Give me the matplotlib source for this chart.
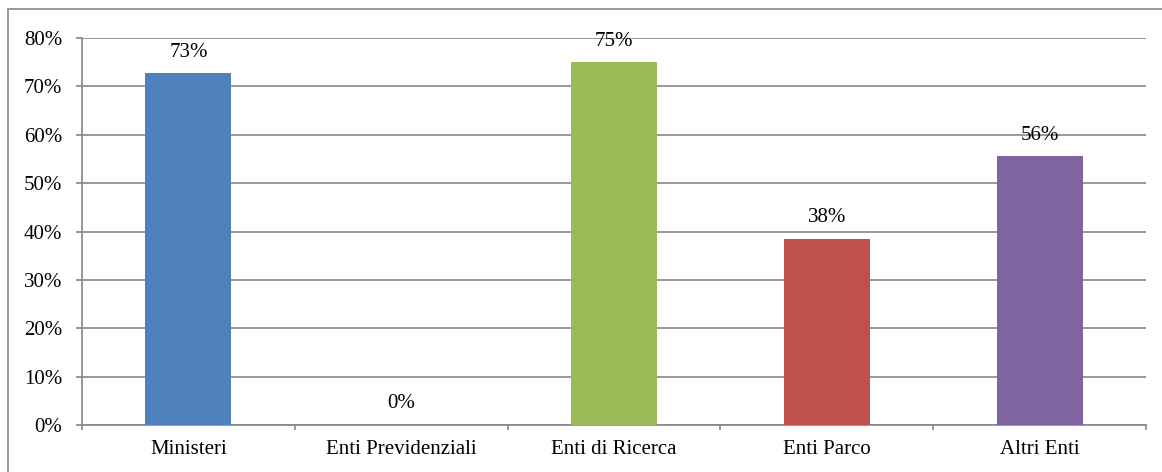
import matplotlib.pyplot as plt
from matplotlib.patches import Rectangle
import numpy as np

categories = ["Ministeri", "Enti Previdenziali", "Enti di Ricerca", "Enti Parco", "Altri Enti"]
values = [0.727, 0.0, 0.75, 0.385, 0.556]
labels = ["73%", "0%", "75%", "38%", "56%"]
colors = ["#4F81BD", "#4F81BD", "#9BBB59", "#C0504D", "#8064A2"]

plt.rcParams['font.family'] = ['Liberation Serif', 'DejaVu Serif']
FS = 15

W, H = 1162, 472
fig = plt.figure(figsize=(W / 100, H / 100), dpi=100)
ax = fig.add_axes([82 / W, 1 - 425 / H, (1146 - 82) / W, (425 - 38) / H])

# chart border
fig.patches.append(Rectangle((8 / W, -0.01), 1.1, 1 - 9 / H + 0.01, transform=fig.transFigure,
                             fill=False, edgecolor="#868686", linewidth=1.2))

x = np.arange(len(categories))
ax.bar(x, values, width=0.405, color=colors, zorder=3)

for xi, v, lab in zip(x, values, labels):
    ax.annotate(lab, (xi, v), xytext=(0, 21), textcoords="offset pixels",
                ha="center", va="center", fontsize=FS, zorder=4)

ax.set_xlim(-0.5, len(categories) - 0.5)
ax.set_ylim(0, 0.8)
ax.set_yticks(np.arange(0, 0.81, 0.1))
ax.set_yticklabels([f"{int(round(t * 100))}%" for t in np.arange(0, 0.81, 0.1)], fontsize=FS)
ax.yaxis.grid(True, color="#868686", linewidth=1.2, zorder=0)

ax.set_xticks(x)
ax.set_xticklabels(categories, fontsize=FS)
ax.tick_params(axis="x", length=0, pad=11)
ax.set_xticks(np.arange(-0.5, len(categories)), minor=True)
ax.tick_params(axis="x", which="minor", length=3.6, color="#868686", width=1.2)
ax.tick_params(axis="y", length=4.3, color="#868686", width=1.2, pad=10)

for side in ["top", "right"]:
    ax.spines[side].set_visible(False)
for side in ["left", "bottom"]:
    ax.spines[side].set_color("#868686")
    ax.spines[side].set_linewidth(1.2)

fig.savefig("out.png", dpi=100)
